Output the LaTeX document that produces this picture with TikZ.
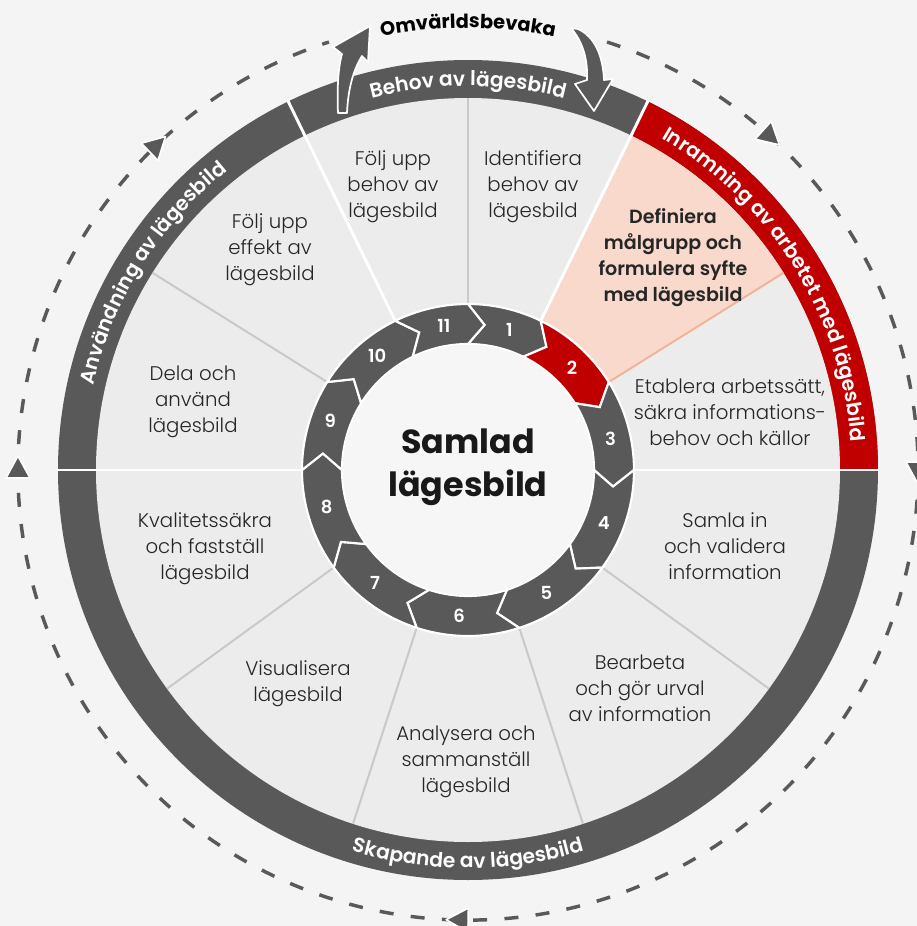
\documentclass[tikz,border=0pt]{standalone}
\usepackage{fontspec}
\setmainfont{Poppins}
\newfontfamily\lightfont{Poppins Light}
\newfontfamily\semifont{Poppins SemiBold}
\usetikzlibrary{decorations.text}
\definecolor{bg}{HTML}{F4F4F4}
\definecolor{disk}{HTML}{ECECEC}
\definecolor{dark}{HTML}{595959}
\definecolor{red}{HTML}{C00000}
\definecolor{pinkfill}{HTML}{F8D9CC}
\definecolor{pinkline}{HTML}{F0B49B}
\definecolor{grayline}{HTML}{C9C9C9}
\definecolor{centerfill}{HTML}{F6F6F6}
\definecolor{segtxt}{HTML}{262626}
\begin{document}
\begin{tikzpicture}[x=0.75pt,y=0.75pt,
  seg/.style={align=center, font=\fontsize{14.8}{19.5}\selectfont\lightfont, text=segtxt, inner sep=0pt},
  segbold/.style={seg, font=\fontsize{14.3}{19.5}\selectfont\semifont},
  num/.style={font=\fontsize{13.5}{15}\selectfont\semifont, text=white, inner sep=0pt},
  chev/.style={draw=white, line width=1.6pt, line join=miter},
  sepgray/.style={draw=grayline, line width=1.5pt},
  sepwhite/.style={draw=white, line width=2.2pt},
  dashc/.style={draw=dark, line width=2.6pt, dash pattern=on 10.5pt off 13pt},
  tri/.style={fill=dark, draw=white, line width=1.2pt, line join=round},
  curvearrow/.style={fill=dark, draw=white, line width=1.3pt, line join=round}]
\useasboundingbox (-468,-456) rectangle (449,470);
\fill[bg] (-468,-456) rectangle (449,470);
% outer band
\fill[dark] (0,0) circle[radius=410];
\fill[red] (0,0) -- (0:410) arc[start angle=0,end angle=64,radius=410] -- cycle;
\fill[disk] (0,0) circle[radius=372];
% pink sector
\fill[pinkfill] (32:166) -- (32:372) arc[start angle=32,end angle=64,radius=372] -- (64:166) arc[start angle=64,end angle=32,radius=166] -- cycle;
% sector lines
\foreach \ang in {90,-36,-72,-108,-144,148} \draw[sepgray] (\ang:166) -- (\ang:372);
\draw[draw=pinkline, line width=1.5pt] (32:166) -- (32:372);
\foreach \ang in {0,180,64,116} \draw[sepwhite] (\ang:166) -- (\ang:411);
% chevrons
\foreach \a/\b/\n/\c in {90/64/1/dark,64/32/2/red,32/0/3/dark,0/-36/4/dark,-36/-72/5/dark,-72/-108/6/dark,-108/-144/7/dark,-144/-180/8/dark,-180/-212/9/dark,-212/-244/10/dark,-244/-270/11/dark}{
  \pgfmathsetmacro\bt{\b-6.5}
  \pgfmathsetmacro\at{\a-6.5}
  \pgfmathsetmacro\m{(\a+\b)/2-3.5}
  \path[chev, fill=\c] (\a:166) arc[start angle=\a,end angle=\b,radius=166] -- (\bt:146) -- (\b:126) arc[start angle=\b,end angle=\a,radius=126] -- (\at:146) -- cycle;
  \node[num] (n\n) at (\m:146) {\n};
}
\fill[centerfill] (0,0) circle[radius=125];
\node[align=center, font=\fontsize{25}{32}\selectfont\bfseries, text=black!90] (center) at (0,3) {Samlad\\lägesbild};
% band texts
\path[decorate, decoration={text along path, text align=center, text color=white, text={|\fontsize{15.2}{17}\selectfont\semifont|Behov av lägesbild}}] (140:384) arc[start angle=140,end angle=40,radius=384];
\path[decorate, decoration={text along path, text align=center, text color=white, text={|\fontsize{15.2}{17}\selectfont\semifont|Inramning av arbetet med lägesbild}}] (64:384) arc[start angle=64,end angle=0,radius=384];
\path[decorate, decoration={text along path, text align=center, text color=white, text={|\fontsize{15.2}{17}\selectfont\semifont|Användning av lägesbild}}] (180:384) arc[start angle=180,end angle=116,radius=384];
\path[decorate, decoration={text along path, text align=center, text color=white, text={|\fontsize{15.2}{17}\selectfont\semifont|Skapande av lägesbild}}] (225:398) arc[start angle=225,end angle=315,radius=398];
% dashed circle
\draw[dashc] (72:450) arc[start angle=72,end angle=-252,radius=450];
\foreach \ang in {134,180,48,0,-91}{
  \begin{scope}[shift={(\ang:450)}, rotate=\ang-90]
    \path[tri] (14,0) -- (-8,12) -- (-8,-12) -- cycle;
  \end{scope}
}
\path[decorate, decoration={text along path, text align=center, text={|\fontsize{14.5}{16}\selectfont\bfseries|Omvärldsbevaka}}] (120:442) arc[start angle=120,end angle=60,radius=442];
% pixel-coordinate scope
\begin{scope}[shift={(-468,470)}, yscale=-1]
  \path[curvearrow] (338,113) .. controls (337,90) and (338,68) .. (342,54) -- (333,47) -- (370,26) -- (368,62) -- (362,56) .. controls (352,72) and (348,92) .. (347,113) -- cycle;
  \path[curvearrow] (571,28) .. controls (583,42) and (588,60) .. (587,80) -- (575,84) -- (594,111) -- (613,79) -- (604,80) .. controls (603,55) and (594,36) .. (578,29) -- cycle;
  \node[seg] (s11) at (393,187) {Följ upp\\behov av\\lägesbild};
  \node[seg] (s1) at (533,187) {Identifiera\\behov av\\lägesbild};
  \node[segbold] (s2) at (673,258) {Definiera\\målgrupp och\\formulera syfte\\med lägesbild};
  \node[seg] (s3) at (730,412) {Etablera arbetssätt,\\säkra informations-\\behov och källor};
  \node[seg] (s4) at (725,546) {Samla in\\och validera\\information};
  \node[seg] (s5) at (640,688) {Bearbeta\\och gör urval\\av information};
  \node[seg] (s6) at (466,762) {Analysera och\\sammanställ\\lägesbild};
  \node[seg] (s7) at (298,684) {Visualisera\\lägesbild};
  \node[seg] (s8) at (205,549) {Kvalitetssäkra\\och fastställ\\lägesbild};
  \node[seg] (s9) at (193,402) {Dela och\\använd\\lägesbild};
  \node[seg] (s10) at (270,250) {Följ upp\\effekt av\\lägesbild};
\end{scope}
\end{tikzpicture}
\end{document}
